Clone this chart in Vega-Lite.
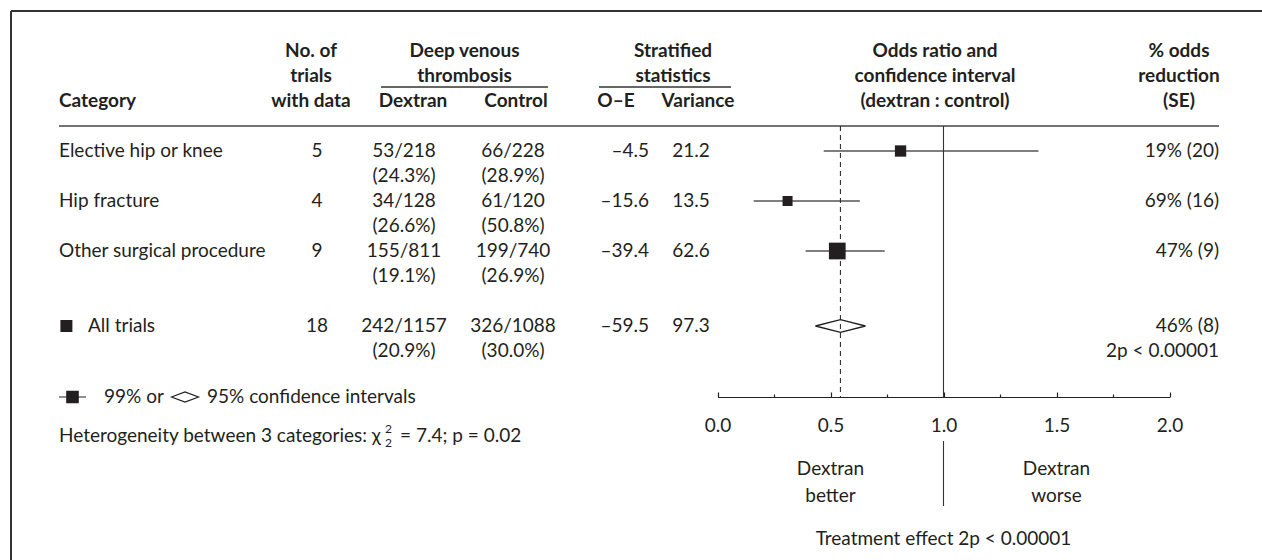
{
"$schema": "https://vega.github.io/schema/vega-lite/v6.json",
"padding": {"left": 10, "top": 0, "right": 0, "bottom": 0},
"spacing": 0,
"bounds": "flush",
"background": "white",
"config": {"view": {"stroke": null}, "text": {"font": "Lato", "fontSize": 19, "color": "#231f20", "baseline": "middle"}},
"resolve": {"scale": {"y": "shared"}},
"datasets": {
"one": [{"k": 1}],
"rows": [
{"cat": "Elective hip or knee", "n": 5, "dex": "53/218", "dexp": "(24.3%)", "ctl": "66/228", "ctlp": "(28.9%)", "oe": "–4.5", "v": 21.2, "or": 0.81, "lo": 0.47, "hi": 1.42, "red": "19% (20)"},
{"cat": "Hip fracture", "n": 4, "dex": "34/128", "dexp": "(26.6%)", "ctl": "61/120", "ctlp": "(50.8%)", "oe": "–15.6", "v": 13.5, "or": 0.31, "lo": 0.16, "hi": 0.63, "red": "69% (16)"},
{"cat": "Other surgical procedure", "n": 9, "dex": "155/811", "dexp": "(19.1%)", "ctl": "199/740", "ctlp": "(26.9%)", "oe": "–39.4", "v": 62.6, "or": 0.53, "lo": 0.39, "hi": 0.74, "red": "47% (9)"},
{"cat": "All trials", "n": 18, "dex": "242/1157", "dexp": "(20.9%)", "ctl": "326/1088", "ctlp": "(30.0%)", "oe": "–59.5", "v": 97.3, "or": 0.544, "lo": 0.45, "hi": 0.66, "red": "46% (8)"}
],
"heads": [
{"t": "Category", "col": "cat", "ln": "h3"},
{"t": "No. of", "col": "trials", "ln": "h1"}, {"t": "trials", "col": "trials", "ln": "h2"}, {"t": "with data", "col": "trials", "ln": "h3"},
{"t": "Deep venous", "col": "dvt", "ln": "h1"}, {"t": "thrombosis", "col": "dvt", "ln": "h2"},
{"t": "Dextran", "col": "dvtsub", "ln": "h3"}, {"t": "Control", "col": "dvtsub", "ln": "h3"},
{"t": "Stratified", "col": "strat", "ln": "h1"}, {"t": "statistics", "col": "strat", "ln": "h2"},
{"t": "O–E", "col": "stratsub", "ln": "h3"}, {"t": "Variance", "col": "stratsub", "ln": "h3"},
{"t": "Odds ratio and", "col": "or", "ln": "h1"}, {"t": "confidence interval", "col": "or", "ln": "h2"}, {"t": "(dextran : control)", "col": "or", "ln": "h3"},
{"t": "% odds", "col": "red", "ln": "h1"}, {"t": "reduction", "col": "red", "ln": "h2"}, {"t": "(SE)", "col": "red", "ln": "h3"}
]
},
"hconcat": [
{"width": 48, "height": 560, "layer": [
 {"data": {"name": "one"}, "mark": {"type": "rule", "color": "#333", "strokeWidth": 2, "yOffset": 10}, "encoding": {"y": {"datum": "t0", "type": "nominal", "scale": {"type": "point", "domain": ["t0","t1","h1","h2","h3","rule","Elective hip or knee","_e2","Hip fracture","_h2","Other surgical procedure","_o2","_gap","All trials","_a2","b1","b2","b3","b4","b5","b6","b7","b8"], "range": [1, 551], "padding": 0}, "axis": null}}},
 {"data": {"name": "one"}, "mark": {"type": "rule", "color": "#333", "strokeWidth": 2, "yOffset": 10}, "encoding": {"x": {"value": 0}, "y": {"datum": "t0", "type": "nominal", "axis": null}, "y2": {"value": "height"}}}
]},
{"width": 214, "height": 560, "layer": [
 {"data": {"name": "one"}, "mark": {"type": "rule", "color": "#333", "strokeWidth": 2, "yOffset": 10}, "encoding": {"y": {"datum": "t0", "type": "nominal", "axis": null}}},
 {"data": {"name": "one"}, "mark": {"type": "rule", "color": "#444", "strokeWidth": 1.5}, "encoding": {"y": {"datum": "rule", "type": "nominal", "axis": null}}},
 {"data": {"name": "heads"}, "transform": [{"filter": "datum.col === 'cat'"}], "mark": {"type": "text", "align": "left", "fontWeight": "bold"}, "encoding": {"x": {"value": 0}, "y": {"field": "ln", "type": "nominal", "axis": null}, "text": {"field": "t"}}},
 {"data": {"name": "rows"}, "transform": [{"filter": "datum.cat !== 'All trials'"}], "mark": {"type": "text", "align": "left"}, "encoding": {"x": {"value": 0}, "y": {"field": "cat", "type": "nominal", "axis": null}, "text": {"field": "cat"}}},
 {"data": {"name": "rows"}, "transform": [{"filter": "datum.cat === 'All trials'"}], "mark": {"type": "text", "align": "left", "dx": 29}, "encoding": {"x": {"value": 0}, "y": {"field": "cat", "type": "nominal", "axis": null}, "text": {"field": "cat"}}},
 {"data": {"name": "rows"}, "transform": [{"filter": "datum.cat === 'All trials'"}], "mark": {"type": "point", "shape": "square", "filled": true, "size": 144, "color": "#231f20", "opacity": 1, "xOffset": 7.4}, "encoding": {"x": {"value": 0}, "y": {"field": "cat", "type": "nominal", "axis": null}}},
 {"data": {"name": "one"}, "mark": {"type": "point", "shape": "M-1,0L1,0M-0.42,-0.42L0.42,-0.42L0.42,0.42L-0.42,0.42Z", "size": 729, "filled": true, "fill": "#231f20", "stroke": "#231f20", "strokeWidth": 1.2, "opacity": 1, "xOffset": 13.5, "yOffset": -4}, "encoding": {"x": {"value": 0}, "y": {"datum": "b2", "type": "nominal", "axis": null}}},
 {"data": {"name": "one"}, "mark": {"type": "text", "align": "left", "dx": 45, "dy": -4, "text": "99% or"}, "encoding": {"x": {"value": 0}, "y": {"datum": "b2", "type": "nominal", "axis": null}}},
 {"data": {"name": "one"}, "mark": {"type": "point", "shape": "M-1,0L0,-0.38L1,0L0,0.38Z", "size": 729, "filled": false, "stroke": "#231f20", "strokeWidth": 1.2, "opacity": 1, "xOffset": 126, "yOffset": -4}, "encoding": {"x": {"value": 0}, "y": {"datum": "b2", "type": "nominal", "axis": null}}},
 {"data": {"name": "one"}, "mark": {"type": "text", "align": "left", "dx": 148, "dy": -4, "text": "95% confidence intervals"}, "encoding": {"x": {"value": 0}, "y": {"datum": "b2", "type": "nominal", "axis": null}}},
 {"data": {"name": "one"}, "mark": {"type": "text", "align": "left", "dy": 10, "text": "Heterogeneity between 3 categories: χ"}, "encoding": {"x": {"value": 0}, "y": {"datum": "b3", "type": "nominal", "axis": null}}},
 {"data": {"name": "one"}, "mark": {"type": "text", "align": "left", "dx": 326, "dy": 3, "fontSize": 12, "text": "2"}, "encoding": {"x": {"value": 0}, "y": {"datum": "b3", "type": "nominal", "axis": null}}},
 {"data": {"name": "one"}, "mark": {"type": "text", "align": "left", "dx": 326, "dy": 17, "fontSize": 12, "text": "2"}, "encoding": {"x": {"value": 0}, "y": {"datum": "b3", "type": "nominal", "axis": null}}},
 {"data": {"name": "one"}, "mark": {"type": "text", "align": "left", "dx": 341, "dy": 10, "text": "= 7.4; p = 0.02"}, "encoding": {"x": {"value": 0}, "y": {"datum": "b3", "type": "nominal", "axis": null}}}
]},
{"width": 84, "height": 560, "layer": [
 {"data": {"name": "one"}, "mark": {"type": "rule", "color": "#333", "strokeWidth": 2, "yOffset": 10}, "encoding": {"y": {"datum": "t0", "type": "nominal", "axis": null}}},
 {"data": {"name": "one"}, "mark": {"type": "rule", "color": "#444", "strokeWidth": 1.5}, "encoding": {"y": {"datum": "rule", "type": "nominal", "axis": null}}},
 {"data": {"name": "heads"}, "transform": [{"filter": "datum.col === 'trials'"}], "mark": {"type": "text", "fontWeight": "bold", "dx": -4}, "encoding": {"y": {"field": "ln", "type": "nominal", "axis": null}, "text": {"field": "t"}}},
 {"data": {"name": "rows"}, "mark": {"type": "text", "dx": 2}, "encoding": {"y": {"field": "cat", "type": "nominal", "axis": null}, "text": {"field": "n", "type": "quantitative"}}}
]},
{"width": 24, "height": 560, "layer": [
 {"data": {"name": "one"}, "mark": {"type": "rule", "color": "#333", "strokeWidth": 2, "yOffset": 10}, "encoding": {"y": {"datum": "t0", "type": "nominal", "axis": null}}},
 {"data": {"name": "one"}, "mark": {"type": "rule", "color": "#444", "strokeWidth": 1.5}, "encoding": {"y": {"datum": "rule", "type": "nominal", "axis": null}}}
]},
{"width": 167, "height": 560, "layer": [
 {"data": {"name": "one"}, "mark": {"type": "rule", "color": "#333", "strokeWidth": 2, "yOffset": 10}, "encoding": {"y": {"datum": "t0", "type": "nominal", "axis": null}}},
 {"data": {"name": "one"}, "mark": {"type": "rule", "color": "#444", "strokeWidth": 1.5}, "encoding": {"y": {"datum": "rule", "type": "nominal", "axis": null}}},
 {"data": {"name": "one"}, "mark": {"type": "rule", "color": "#333", "strokeWidth": 1.3, "yOffset": 11}, "encoding": {"y": {"datum": "h2", "type": "nominal", "axis": null}}},
 {"data": {"name": "heads"}, "transform": [{"filter": "datum.col === 'dvt'"}], "mark": {"type": "text", "fontWeight": "bold"}, "encoding": {"y": {"field": "ln", "type": "nominal", "axis": null}, "text": {"field": "t"}}},
 {"data": {"name": "heads"}, "transform": [{"filter": "datum.col === 'dvtsub'"}], "mark": {"type": "text", "fontWeight": "bold"}, "encoding": {"x": {"field": "t", "type": "nominal", "scale": {"type": "point", "domain": ["Dextran", "Control"], "padding": 0.3107, "align": 0.5}, "axis": null}, "y": {"field": "ln", "type": "nominal", "axis": null}, "text": {"field": "t"}}},
 {"data": {"name": "rows"}, "mark": {"type": "text", "dx": -9}, "encoding": {"x": {"datum": "Dextran", "type": "nominal", "axis": null}, "y": {"field": "cat", "type": "nominal", "axis": null}, "text": {"field": "dex"}}},
 {"data": {"name": "rows"}, "mark": {"type": "text", "dx": -9, "dy": 25}, "encoding": {"x": {"datum": "Dextran", "type": "nominal", "axis": null}, "y": {"field": "cat", "type": "nominal", "axis": null}, "text": {"field": "dexp"}}},
 {"data": {"name": "rows"}, "mark": {"type": "text", "dx": -3}, "encoding": {"x": {"datum": "Control", "type": "nominal", "axis": null}, "y": {"field": "cat", "type": "nominal", "axis": null}, "text": {"field": "ctl"}}},
 {"data": {"name": "rows"}, "mark": {"type": "text", "dx": -3, "dy": 25}, "encoding": {"x": {"datum": "Control", "type": "nominal", "axis": null}, "y": {"field": "cat", "type": "nominal", "axis": null}, "text": {"field": "ctlp"}}}
]},
{"width": 51, "height": 560, "layer": [
 {"data": {"name": "one"}, "mark": {"type": "rule", "color": "#333", "strokeWidth": 2, "yOffset": 10}, "encoding": {"y": {"datum": "t0", "type": "nominal", "axis": null}}},
 {"data": {"name": "one"}, "mark": {"type": "rule", "color": "#444", "strokeWidth": 1.5}, "encoding": {"y": {"datum": "rule", "type": "nominal", "axis": null}}}
]},
{"width": 132, "height": 560, "layer": [
 {"data": {"name": "one"}, "mark": {"type": "rule", "color": "#333", "strokeWidth": 2, "yOffset": 10}, "encoding": {"y": {"datum": "t0", "type": "nominal", "axis": null}}},
 {"data": {"name": "one"}, "mark": {"type": "rule", "color": "#444", "strokeWidth": 1.5}, "encoding": {"y": {"datum": "rule", "type": "nominal", "axis": null}}},
 {"data": {"name": "one"}, "mark": {"type": "rule", "color": "#333", "strokeWidth": 1.3, "yOffset": 11}, "encoding": {"y": {"datum": "h2", "type": "nominal", "axis": null}}},
 {"data": {"name": "heads"}, "transform": [{"filter": "datum.col === 'strat'"}], "mark": {"type": "text", "fontWeight": "bold", "dx": 8}, "encoding": {"y": {"field": "ln", "type": "nominal", "axis": null}, "text": {"field": "t"}}},
 {"data": {"name": "heads"}, "transform": [{"filter": "datum.col === 'stratsub' && datum.t === 'O–E'"}], "mark": {"type": "text", "fontWeight": "bold", "dx": -5}, "encoding": {"x": {"field": "t", "type": "nominal", "scale": {"type": "point", "domain": ["O–E", "Variance"], "padding": 0.443, "align": 0.355}, "axis": null}, "y": {"field": "ln", "type": "nominal", "axis": null}, "text": {"field": "t"}}},
 {"data": {"name": "heads"}, "transform": [{"filter": "datum.col === 'stratsub' && datum.t === 'Variance'"}], "mark": {"type": "text", "fontWeight": "bold", "dx": 7}, "encoding": {"x": {"field": "t", "type": "nominal", "axis": null}, "y": {"field": "ln", "type": "nominal", "axis": null}, "text": {"field": "t"}}},
 {"data": {"name": "rows"}, "mark": {"type": "text", "align": "right", "dx": 28}, "encoding": {"x": {"datum": "O–E", "type": "nominal", "axis": null}, "y": {"field": "cat", "type": "nominal", "axis": null}, "text": {"field": "oe"}}},
 {"data": {"name": "rows"}, "mark": {"type": "text"}, "encoding": {"x": {"datum": "Variance", "type": "nominal", "axis": null}, "y": {"field": "cat", "type": "nominal", "axis": null}, "text": {"field": "v", "type": "quantitative", "format": ".1f"}}}
]},
{"width": 408, "height": 560, "layer": [
 {"data": {"name": "one"}, "mark": {"type": "rule", "color": "#333", "strokeWidth": 2, "yOffset": 10}, "encoding": {"y": {"datum": "t0", "type": "nominal", "axis": null}}},
 {"data": {"name": "one"}, "mark": {"type": "rule", "color": "#444", "strokeWidth": 1.5}, "encoding": {"y": {"datum": "rule", "type": "nominal", "axis": null}}},
 {"data": {"name": "heads"}, "transform": [{"filter": "datum.col === 'or'"}], "mark": {"type": "text", "fontWeight": "bold"}, "encoding": {"y": {"field": "ln", "type": "nominal", "axis": null}, "text": {"field": "t"}}},
 {"data": {"name": "rows"}, "transform": [{"filter": "datum.cat !== 'All trials'"}], "mark": {"type": "rule", "color": "#555", "strokeWidth": 1.3}, "encoding": {
   "x": {"field": "lo", "type": "quantitative", "scale": {"domain": [0, 2], "range": [-13.5, 438.5], "nice": false, "zero": false},
     "axis": {"orient": "bottom", "offset": -163, "values": [0, 0.25, 0.5, 0.75, 1, 1.25, 1.5, 1.75, 2], "labelExpr": "datum.value % 0.5 === 0 ? format(datum.value, '.1f') : ''", "tickSize": -5, "tickDash": {"condition": {"test": "datum.value % 0.5 !== 0", "value": [3, 10]}, "value": [1, 0]}, "tickColor": "#222", "tickWidth": 1.2, "domainColor": "#222", "domainWidth": 1.2, "labelFont": "Lato", "labelFontSize": 19, "labelColor": "#231f20", "labelPadding": 24, "labelFlush": false, "labelOverlap": false, "grid": false, "title": null}},
   "x2": {"field": "hi"}, "y": {"field": "cat", "type": "nominal", "axis": null}}},
 {"data": {"name": "one"}, "mark": {"type": "rule", "color": "#333", "strokeWidth": 1.1, "y2Offset": -4}, "encoding": {"x": {"datum": 1, "type": "quantitative"}, "y": {"datum": "rule", "type": "nominal", "axis": null}, "y2": {"datum": "b2"}}},
 {"data": {"name": "rows"}, "transform": [{"filter": "datum.cat === 'All trials'"}], "mark": {"type": "rule", "color": "#333", "strokeWidth": 1.1, "strokeDash": [5, 4], "y2Offset": -4}, "encoding": {"x": {"field": "or", "type": "quantitative"}, "y": {"datum": "rule", "type": "nominal", "axis": null}, "y2": {"datum": "b2"}}},
 {"data": {"name": "rows"}, "transform": [{"filter": "datum.cat !== 'All trials'"}], "mark": {"type": "point", "shape": "square", "filled": true, "color": "#231f20", "opacity": 1}, "encoding": {"x": {"field": "or", "type": "quantitative"}, "y": {"field": "cat", "type": "nominal", "axis": null}, "size": {"field": "v", "type": "quantitative", "scale": {"domain": [13.5, 62.6], "range": [100, 280]}, "legend": null}}},
 {"data": {"name": "rows"}, "transform": [{"filter": "datum.cat === 'All trials'"}], "mark": {"type": "point", "shape": "M-1,0L0,-0.254L1,0L0,0.254Z", "size": 2500, "filled": false, "stroke": "#231f20", "strokeWidth": 1.3, "opacity": 1}, "encoding": {"x": {"field": "or", "type": "quantitative"}, "y": {"field": "cat", "type": "nominal", "axis": null}}},
 {"data": {"name": "one"}, "mark": {"type": "rule", "color": "#333", "strokeWidth": 1.1, "yOffset": -10, "y2Offset": 5}, "encoding": {"x": {"datum": 1, "type": "quantitative"}, "y": {"datum": "b4", "type": "nominal", "axis": null}, "y2": {"datum": "b6"}}},
 {"data": {"name": "one"}, "mark": {"type": "text", "text": "Dextran", "dy": -7}, "encoding": {"x": {"datum": 0.5, "type": "quantitative"}, "y": {"datum": "b5", "type": "nominal", "axis": null}}},
 {"data": {"name": "one"}, "mark": {"type": "text", "text": "better", "dy": -5}, "encoding": {"x": {"datum": 0.5, "type": "quantitative"}, "y": {"datum": "b6", "type": "nominal", "axis": null}}},
 {"data": {"name": "one"}, "mark": {"type": "text", "text": "Dextran", "dy": -7}, "encoding": {"x": {"datum": 1.5, "type": "quantitative"}, "y": {"datum": "b5", "type": "nominal", "axis": null}}},
 {"data": {"name": "one"}, "mark": {"type": "text", "text": "worse", "dy": -5}, "encoding": {"x": {"datum": 1.5, "type": "quantitative"}, "y": {"datum": "b6", "type": "nominal", "axis": null}}},
 {"data": {"name": "one"}, "mark": {"type": "text", "text": "Treatment effect 2p < 0.00001", "dy": -12}, "encoding": {"x": {"datum": 1, "type": "quantitative"}, "y": {"datum": "b8", "type": "nominal", "axis": null}}}
]},
{"width": 80, "height": 560, "layer": [
 {"data": {"name": "one"}, "mark": {"type": "rule", "color": "#333", "strokeWidth": 2, "yOffset": 10}, "encoding": {"y": {"datum": "t0", "type": "nominal", "axis": null}}},
 {"data": {"name": "one"}, "mark": {"type": "rule", "color": "#444", "strokeWidth": 1.5}, "encoding": {"y": {"datum": "rule", "type": "nominal", "axis": null}}},
 {"data": {"name": "heads"}, "transform": [{"filter": "datum.col === 'red'"}], "mark": {"type": "text", "fontWeight": "bold"}, "encoding": {"y": {"field": "ln", "type": "nominal", "axis": null}, "text": {"field": "t"}}},
 {"data": {"name": "rows"}, "mark": {"type": "text", "align": "right"}, "encoding": {"x": {"value": "width"}, "y": {"field": "cat", "type": "nominal", "axis": null}, "text": {"field": "red"}}},
 {"data": {"name": "one"}, "mark": {"type": "text", "align": "right", "text": "2p < 0.00001"}, "encoding": {"x": {"value": "width"}, "y": {"datum": "_a2", "type": "nominal", "axis": null}}}
]},
{"width": 44, "height": 560, "layer": [
 {"data": {"name": "one"}, "mark": {"type": "rule", "color": "#333", "strokeWidth": 2, "yOffset": 10}, "encoding": {"y": {"datum": "t0", "type": "nominal", "axis": null}}}
]}
]
}
